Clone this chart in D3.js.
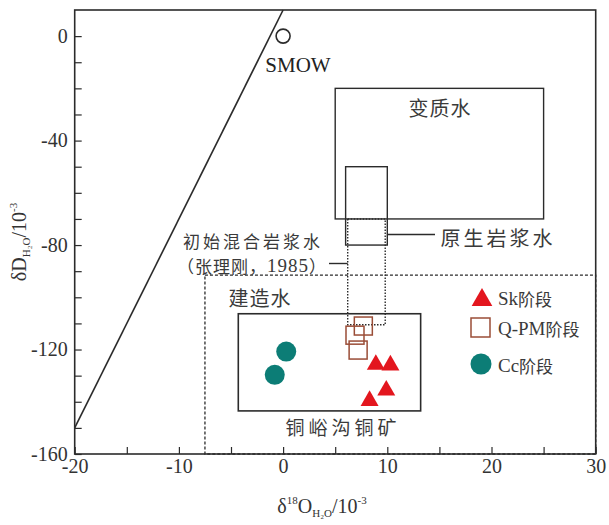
<!DOCTYPE html>
<html><head><meta charset="utf-8">
<script src="https://cdn.jsdelivr.net/npm/d3@7"></script>
<style>body{margin:0;background:#fff}svg{display:block}</style>
</head><body><svg id="c" width="609" height="525"></svg>
<script>
// ---- data ----
const xTicks = [-20,-15,-10,-5,0,5,10,15,20,25,30];
const xTickLabels = [-20,-10,0,10,20,30];
const yTicks = d3.range(-160, 1, 10);
const yTickLabels = [0,-40,-80,-120,-160];
const skX = [8.9, 10.3, 9.9, 8.3];
const skY = [-125.8, -126.0, -135.6, -139.6];
const qpmX = [7.7, 6.9, 7.2];
const qpmY = [-111.0, -114.5, -120.2];
const ccX = [0.3, -0.8];
const ccY = [-120.8, -129.7];
const smow = [0, 0];
// meteoric water line dD = 8*d18O + 10
const mwlX = [-20, 0];
const mwlY = [-150, 10];
// field boxes [x0,x1,y0,y1]
const metamorphic = [5, 25, -70, -20];
const primaryMagmatic = [6, 10, -80, -50];
const initialMixed = [6.2, 9.8, -110.5, -70];
const formation = [-7.5, 30, -160, -91.5];
const deposit = [-4.3, 13.2, -143.5, -106.3];
const legendItems = ["Sk阶段", "Q-PM阶段", "Cc阶段"];

const svg = d3.select("#c");
const x = d3.scaleLinear().domain([-20, 30]).range([74.7, 595.7]);
const y = d3.scaleLinear().domain([-160, 10]).range([454, 10]);
const serif = "'Liberation Serif','Times New Roman',serif";
const cjk = "'Noto Sans CJK SC','Noto Sans',sans-serif";
const ink = "#2b2b2b";

function box(b, dash, w) {
  svg.append("rect")
    .attr("x", x(b[0])).attr("y", y(b[3]))
    .attr("width", x(b[1]) - x(b[0])).attr("height", y(b[2]) - y(b[3]))
    .attr("fill", "none").attr("stroke", ink).attr("stroke-width", w || 1.4)
    .attr("stroke-dasharray", dash || null);
}
box(formation, "3,2", 1.3);
box(metamorphic, null, 1.4);
box(primaryMagmatic, null, 1.4);
box(initialMixed, "1.5,1.5", 1.4);
box(deposit, null, 1.6);

// MWL
svg.append("line").attr("x1", x(mwlX[0])).attr("y1", y(mwlY[0]))
  .attr("x2", x(mwlX[1])).attr("y2", y(mwlY[1]))
  .attr("stroke", ink).attr("stroke-width", 1.6);

// axes
const gx = svg.append("g").attr("transform", `translate(0,${y(-160)})`)
  .call(d3.axisBottom(x).tickValues(xTicks).tickSize(-7).tickPadding(5)
    .tickFormat(d => xTickLabels.includes(d) ? d : ""));
const gy = svg.append("g").attr("transform", `translate(${x(-20)},0)`)
  .call(d3.axisLeft(y).tickValues(yTicks).tickSize(-7).tickPadding(7)
    .tickFormat(d => yTickLabels.includes(d) ? d : ""));
[gx, gy].forEach(g => {
  g.select(".domain").remove();
  g.selectAll(".tick line").attr("stroke", ink).attr("stroke-width", 1.2);
  g.selectAll(".tick text").attr("font-family", serif).attr("font-size", 20).attr("fill", "#333");
});
// frame
svg.append("rect").attr("x", x(-20)).attr("y", y(10))
  .attr("width", x(30) - x(-20)).attr("height", y(-160) - y(10))
  .attr("fill", "none").attr("stroke", ink).attr("stroke-width", 1.6);

// SMOW
svg.append("circle").attr("cx", x(smow[0])).attr("cy", y(smow[1])).attr("r", 7)
  .attr("fill", "none").attr("stroke", ink).attr("stroke-width", 1.6);
svg.append("text").attr("x", 298).attr("y", 72).attr("text-anchor", "middle")
  .attr("font-family", serif).attr("font-size", 21).attr("fill", "#222").text("SMOW");

// field labels
function label(t, px, py, size, ls) {
  svg.append("text").attr("x", px).attr("y", py).attr("text-anchor", "middle")
    .attr("dominant-baseline", "central")
    .attr("font-family", cjk).attr("font-size", size).attr("fill", "#3a3a3a")
    .attr("letter-spacing", ls || 0).text(t);
}
label("变质水", 440, 107, 20, 1);
label("原生岩浆水", 498, 237, 20, 3);
label("初始混合岩浆水", 253, 240, 17, 3);
label("建造水", 260, 297, 20, 1);
label("铜峪沟铜矿", 343, 426, 19, 4);
// （张理刚，1985）
const ref = svg.append("text").attr("x", 252).attr("y", 265).attr("text-anchor", "middle")
  .attr("dominant-baseline", "central").attr("font-size", 17).attr("fill", "#3a3a3a")
  .attr("letter-spacing", 1);
ref.append("tspan").attr("font-family", cjk).text("（张理刚，");
ref.append("tspan").attr("font-family", serif).attr("font-size", 19).text("1985");
ref.append("tspan").attr("font-family", cjk).text("）");
// leader lines
svg.append("line").attr("x1", 329).attr("x2", x(initialMixed[0])).attr("y1", 263.5).attr("y2", 263.5)
  .attr("stroke", ink).attr("stroke-width", 1.4);
svg.append("line").attr("x1", x(primaryMagmatic[1])).attr("x2", 435).attr("y1", 234.5).attr("y2", 234.5)
  .attr("stroke", ink).attr("stroke-width", 1.4);

// data
const red = "#e3161e", teal = "#0c7d76", brown = "#9a4d37";
const tri = d3.symbol().type(d3.symbolTriangle).size(140);
const triL = d3.symbol().type(d3.symbolTriangle).size(185);
svg.append("g").selectAll("rect").data(qpmX.map((v, i) => [v, qpmY[i]])).join("rect")
  .attr("x", d => x(d[0]) - 9).attr("y", d => y(d[1]) - 9).attr("width", 18).attr("height", 18)
  .attr("fill", "none").attr("stroke", brown).attr("stroke-width", 1.5);
svg.append("g").selectAll("path").data(skX.map((v, i) => [v, skY[i]])).join("path")
  .attr("d", tri).attr("transform", d => `translate(${x(d[0])},${y(d[1])})`)
  .attr("fill", red);
svg.append("g").selectAll("circle").data(ccX.map((v, i) => [v, ccY[i]])).join("circle")
  .attr("cx", d => x(d[0])).attr("cy", d => y(d[1])).attr("r", 10).attr("fill", teal);

// legend
const lg = svg.append("g");
lg.append("path").attr("d", triL).attr("transform", "translate(482,300)").attr("fill", red);
lg.append("rect").attr("x", 471).attr("y", 318).attr("width", 19).attr("height", 19)
  .attr("fill", "none").attr("stroke", brown).attr("stroke-width", 1.5);
lg.append("circle").attr("cx", 481).attr("cy", 364).attr("r", 10.5).attr("fill", teal);
const ly = [298, 328, 365];
legendItems.forEach((t, i) => {
  const m = t.match(/^([A-Za-z\-]+)(.*)$/);
  const tx = lg.append("text").attr("x", 498).attr("y", ly[i]).attr("dominant-baseline", "central")
    .attr("fill", "#3a3a3a");
  tx.append("tspan").attr("font-family", serif).attr("font-size", 19).text(m[1]);
  tx.append("tspan").attr("font-family", cjk).attr("font-size", 17).text(m[2]);
});

// axis titles
const xt = svg.append("text").attr("x", 322).attr("y", 513).attr("text-anchor", "middle")
  .attr("font-family", serif).attr("font-size", 20).attr("fill", "#333");
xt.append("tspan").text("δ");
xt.append("tspan").attr("font-size", 11).attr("dy", -9).text("18");
xt.append("tspan").attr("dy", 9).text("O");
xt.append("tspan").attr("font-size", 11).attr("dy", 4).text("H₂O");
xt.append("tspan").attr("dy", -4).text("/10");
xt.append("tspan").attr("font-size", 11).attr("dy", -9).text("-3");

const yt = svg.append("text").attr("transform", "translate(26,242) rotate(-90)").attr("text-anchor", "middle")
  .attr("font-family", serif).attr("font-size", 20).attr("fill", "#333");
yt.append("tspan").text("δD");
yt.append("tspan").attr("font-size", 11).attr("dy", 4).text("H₂O");
yt.append("tspan").attr("dy", -4).text("/10");
yt.append("tspan").attr("font-size", 11).attr("dy", -9).text("-3");
</script></body></html>
